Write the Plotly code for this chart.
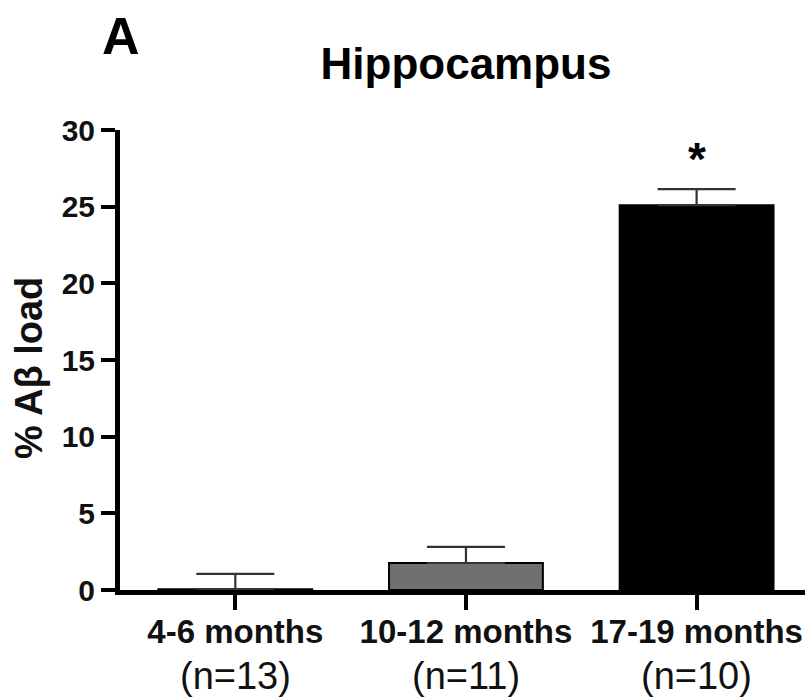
import plotly.graph_objects as go

categories = ["4-6 months", "10-12 months", "17-19 months"]
n_labels = ["(n=13)", "(n=11)", "(n=10)"]
values = [0.05, 1.76, 25.1]
sem = [1.0, 1.05, 1.05]
bar_colors = ["#ffffff", "#707070", "#000000"]
y_ticks = [0, 5, 10, 15, 20, 25, 30]
significance = ["", "", "*"]

FONT = "Liberation Sans, Arial, Helvetica, sans-serif"
W, H = 811, 698
L, R, T, B = 120, 6, 130, 108

fig = go.Figure()
fig.add_trace(go.Bar(
    x=list(range(len(categories))),
    y=values,
    width=0.667,
    marker=dict(color=bar_colors, line=dict(color="#000000", width=2)),
    error_y=dict(type="data", array=sem, arrayminus=[0] * len(sem), symmetric=False,
                 color="#333333", thickness=2.2, width=39),
    showlegend=False,
))

annotations = []
for i, n in enumerate(n_labels):
    annotations.append(dict(x=i, y=0, xref="x", yref="paper", text=n, showarrow=False,
                            yanchor="top", yshift=-63,
                            font=dict(family=FONT, size=38, color="#111111")))
for i, s in enumerate(significance):
    if s:
        annotations.append(dict(x=i, y=values[i] + sem[i], xref="x", yref="y", text=f"<b>{s}</b>",
                                showarrow=False, yanchor="bottom", yshift=2,
                                font=dict(family=FONT, size=46, color="#000000")))
annotations.append(dict(x=(121 - L) / (W - L - R), y=(H - 36 - B) / (H - T - B), xref="paper", yref="paper",
                        text="<b>A</b>", showarrow=False, xanchor="center", yanchor="middle",
                        font=dict(family=FONT, size=52, color="#000000")))
annotations.append(dict(x=(29 - L) / (W - L - R), y=(590 - 368) / (H - T - B), xref="paper", yref="paper",
                        text="<b>% Aβ load</b>", textangle=-90, showarrow=False,
                        xanchor="center", yanchor="middle",
                        font=dict(family=FONT, size=38, color="#111111")))

fig.update_layout(
    width=W, height=H,
    margin=dict(l=L, r=R, t=T, b=B, autoexpand=False),
    paper_bgcolor="white", plot_bgcolor="white",
    title=dict(text="<b>Hippocampus</b>", x=466 / W, xanchor="center",
               y=(H - 64) / H, yanchor="middle",
               font=dict(family=FONT, size=44, color="#000000")),
    font=dict(family=FONT, color="#000000"),
    annotations=annotations,
    bargap=0.333,
)
fig.update_xaxes(
    range=[-0.5, 2.47], tickvals=list(range(len(categories))),
    ticktext=[f"<b>{c}</b>" for c in categories],
    tickfont=dict(family=FONT, size=33, color="#111111"),
    ticklabelstandoff=-7,
    showline=True, linecolor="#000000", linewidth=5,
    ticks="outside", ticklen=15, tickwidth=4, tickcolor="#000000",
    showgrid=False, zeroline=False, fixedrange=True,
)
fig.update_yaxes(
    range=[0, 30], tickvals=y_ticks, ticktext=[f"<b>{t}</b>" for t in y_ticks],
    tickfont=dict(family=FONT, size=30, color="#111111"),
    showline=True, linecolor="#000000", linewidth=5,
    ticks="outside", ticklen=14, tickwidth=4, tickcolor="#000000",
    showgrid=False, zeroline=False, fixedrange=True,
)

fig.write_html("out.html", config={"displayModeBar": False},
               post_script="document.body.style.margin='0';document.body.style.overflow='hidden';")
